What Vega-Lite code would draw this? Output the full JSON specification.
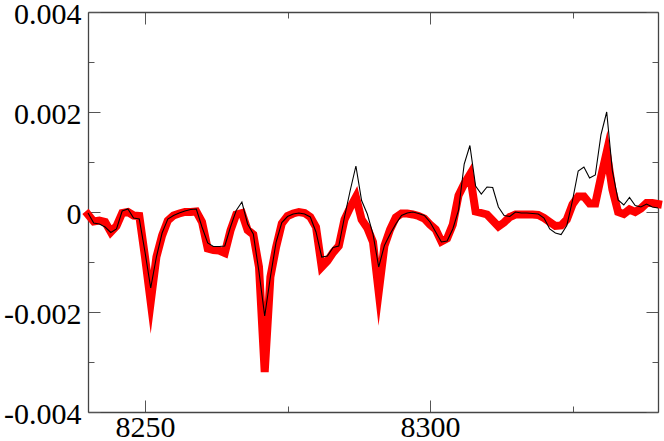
{
  "$schema": "https://vega.github.io/schema/vega-lite/v6.json",
  "width": 570,
  "height": 400,
  "autosize": "none",
  "padding": {"left": 88, "top": 12, "right": 6, "bottom": 29},
  "background": "white",
  "config": {"view": {"stroke": null}},
  "data": {"values": [
    {"x":8240,"red":-0.00005,"black":-0.00002},
    {"x":8241,"red":-0.00019,"black":-0.00022},
    {"x":8242,"red":-0.00017,"black":-0.00024},
    {"x":8243,"red":-0.0002,"black":-0.0003},
    {"x":8244,"red":-0.0004,"black":-0.00041},
    {"x":8245,"red":-0.00028,"black":-0.00034},
    {"x":8246,"red":-0.00002,"black":0.00002},
    {"x":8247,"red":0.0,"black":0.00006},
    {"x":8248,"red":-0.00007,"black":-0.00012},
    {"x":8249,"red":-0.00008,"black":-0.00014},
    {"x":8250,"red":-0.0009,"black":-0.0008},
    {"x":8251,"red":-0.0018,"black":-0.00152},
    {"x":8252,"red":-0.0009,"black":-0.0009},
    {"x":8253,"red":-0.00047,"black":-0.00042},
    {"x":8254,"red":-0.00017,"black":-0.00014},
    {"x":8255,"red":-0.00007,"black":-0.00007},
    {"x":8256,"red":-0.00003,"black":-0.00002},
    {"x":8257,"red":0.0,"black":0.00002},
    {"x":8258,"red":0.0,"black":0.00005},
    {"x":8259,"red":0.00001,"black":0.00006},
    {"x":8260,"red":-0.0002,"black":-0.0003},
    {"x":8261,"red":-0.00073,"black":-0.00062},
    {"x":8262,"red":-0.00076,"black":-0.00069},
    {"x":8263,"red":-0.00077,"black":-0.00069},
    {"x":8264,"red":-0.00082,"black":-0.00068},
    {"x":8265,"red":-0.00037,"black":-0.0003},
    {"x":8266,"red":-0.00005,"black":0.00003},
    {"x":8267,"red":-0.00002,"black":0.0002},
    {"x":8268,"red":-0.00036,"black":-0.00024},
    {"x":8269,"red":-0.00045,"black":-0.00044},
    {"x":8270,"red":-0.0011,"black":-0.0012},
    {"x":8271,"red":-0.0032,"black":-0.00208},
    {"x":8272,"red":-0.0013,"black":-0.0013},
    {"x":8273,"red":-0.0007,"black":-0.0006},
    {"x":8274,"red":-0.00023,"black":-0.00021},
    {"x":8275,"red":-0.00008,"black":-0.00009},
    {"x":8276,"red":-0.00003,"black":-0.00004},
    {"x":8277,"red":0.0,"black":-0.00002},
    {"x":8278,"red":-0.00002,"black":-0.00004},
    {"x":8279,"red":-0.0001,"black":-0.0001},
    {"x":8280,"red":-0.0003,"black":-0.0004},
    {"x":8281,"red":-0.0011,"black":-0.0009},
    {"x":8282,"red":-0.00098,"black":-0.00088},
    {"x":8283,"red":-0.00081,"black":-0.00071},
    {"x":8284,"red":-0.00068,"black":-0.00068},
    {"x":8285,"red":-0.00015,"black":-0.0001},
    {"x":8286,"red":0.00009,"black":0.00043},
    {"x":8287,"red":0.0003,"black":0.00092},
    {"x":8288,"red":-0.00015,"black":0.00023},
    {"x":8289,"red":-0.00032,"black":-0.00004},
    {"x":8290,"red":-0.0006,"black":-0.00044},
    {"x":8291,"red":-0.0016,"black":-0.0011},
    {"x":8292,"red":-0.00068,"black":-0.00067},
    {"x":8293,"red":-0.00035,"black":-0.00044},
    {"x":8294,"red":-0.00011,"black":-0.00024},
    {"x":8295,"red":-0.00003,"black":-0.00007},
    {"x":8296,"red":-0.00003,"black":-0.00002},
    {"x":8297,"red":-0.00005,"black":0.0},
    {"x":8298,"red":-0.00008,"black":-0.00003},
    {"x":8299,"red":-0.00013,"black":-0.00007},
    {"x":8300,"red":-0.00025,"black":-0.0002},
    {"x":8301,"red":-0.00035,"black":-0.0004},
    {"x":8302,"red":-0.00059,"black":-0.0006},
    {"x":8303,"red":-0.00053,"black":-0.00058},
    {"x":8304,"red":-0.00025,"black":-0.00034},
    {"x":8305,"red":0.00033,"black":0.00003},
    {"x":8306,"red":0.00056,"black":0.00096},
    {"x":8307,"red":0.00075,"black":0.00133},
    {"x":8308,"red":0.00001,"black":0.00052},
    {"x":8309,"red":-0.00002,"black":0.00036},
    {"x":8310,"red":-0.00005,"black":0.0005},
    {"x":8311,"red":-0.00017,"black":0.00049},
    {"x":8312,"red":-0.00029,"black":0.0001},
    {"x":8313,"red":-0.00021,"black":-0.00007},
    {"x":8314,"red":-0.0001,"black":-0.00009},
    {"x":8315,"red":-0.00005,"black":0.0},
    {"x":8316,"red":-0.00005,"black":-0.00002},
    {"x":8317,"red":-0.00005,"black":-0.00002},
    {"x":8318,"red":-0.00005,"black":-0.00003},
    {"x":8319,"red":-0.00006,"black":-0.00004},
    {"x":8320,"red":-0.00012,"black":-0.00012},
    {"x":8321,"red":-0.0002,"black":-0.00034},
    {"x":8322,"red":-0.00028,"black":-0.00042},
    {"x":8323,"red":-0.00027,"black":-0.00045},
    {"x":8324,"red":-0.00015,"black":-0.00027},
    {"x":8325,"red":0.00015,"black":0.00023},
    {"x":8326,"red":0.00031,"black":0.00082},
    {"x":8327,"red":0.00031,"black":0.0009},
    {"x":8328,"red":0.00017,"black":0.00068},
    {"x":8329,"red":0.00017,"black":0.00074},
    {"x":8330,"red":0.0007,"black":0.00155},
    {"x":8331,"red":0.0012,"black":0.002},
    {"x":8332,"red":0.00045,"black":0.00082},
    {"x":8333,"red":0.0,"black":0.00024},
    {"x":8334,"red":-0.00004,"black":0.00014},
    {"x":8335,"red":0.00005,"black":0.00029},
    {"x":8336,"red":0.0,"black":0.00013},
    {"x":8337,"red":0.00007,"black":0.0001},
    {"x":8338,"red":0.00018,"black":0.00016},
    {"x":8339,"red":0.00018,"black":0.0001},
    {"x":8340,"red":0.00016,"black":0.00008}
  ]},
  "resolve": {"axis": {"x": "independent", "y": "independent"}},
  "layer": [
    {
      "mark": {"type": "line", "color": "#ff0000", "strokeWidth": 8, "strokeJoin": "miter", "strokeMiterLimit": 10, "strokeCap": "square"},
      "encoding": {
        "x": {"field": "x", "type": "quantitative", "scale": {"domain": [8240, 8340], "nice": false, "zero": false},
          "axis": {"orient": "bottom", "title": null, "grid": false, "values": [8250, 8275, 8300, 8325],
            "labelExpr": "datum.value % 50 == 0 ? datum.label : ''", "format": "d",
            "labelFont": "Liberation Serif", "labelFontSize": 30, "labelColor": "#000", "labelPadding": 12,
            "tickSize": {"condition": {"test": "datum.value % 50 != 0", "value": -6}, "value": -12},
            "tickColor": "#555", "tickWidth": 1, "domainColor": "#444", "domainWidth": 1.3}},
        "y": {"field": "red", "type": "quantitative", "scale": {"domain": [-0.004, 0.004], "nice": false, "zero": false},
          "axis": {"orient": "left", "title": null, "grid": false, "values": [-0.004, -0.003, -0.002, -0.001, 0, 0.001, 0.002, 0.003, 0.004],
            "labelExpr": "abs(datum.value) < 1e-9 ? '0' : (round(datum.value*1000) % 2 == 0 ? (datum.value < 0 ? '-' : '') + format(abs(datum.value), '.3f') : '')",
            "labelFont": "Liberation Serif", "labelFontSize": 30, "labelColor": "#000", "labelPadding": 19, "labelOffset": 2,
            "tickSize": {"condition": {"test": "round(datum.value*1000) % 2 != 0", "value": -6}, "value": -12},
            "tickColor": "#555", "tickWidth": 1, "domainColor": "#444", "domainWidth": 1.3}}
      }
    },
    {
      "mark": {"type": "line", "color": "#000000", "strokeWidth": 1.1},
      "encoding": {
        "x": {"field": "x", "type": "quantitative",
          "axis": {"orient": "top", "title": null, "grid": false, "labels": false, "values": [8250, 8275, 8300, 8325],
            "tickSize": {"condition": {"test": "datum.value % 50 != 0", "value": -6}, "value": -12},
            "tickColor": "#555", "tickWidth": 1, "domainColor": "#444", "domainWidth": 1.3}},
        "y": {"field": "black", "type": "quantitative",
          "axis": {"orient": "right", "title": null, "grid": false, "labels": false, "values": [-0.004, -0.003, -0.002, -0.001, 0, 0.001, 0.002, 0.003, 0.004],
            "tickSize": {"condition": {"test": "round(datum.value*1000) % 2 != 0", "value": -6}, "value": -12},
            "tickColor": "#555", "tickWidth": 1, "domainColor": "#444", "domainWidth": 1.3}}
      }
    }
  ]
}
